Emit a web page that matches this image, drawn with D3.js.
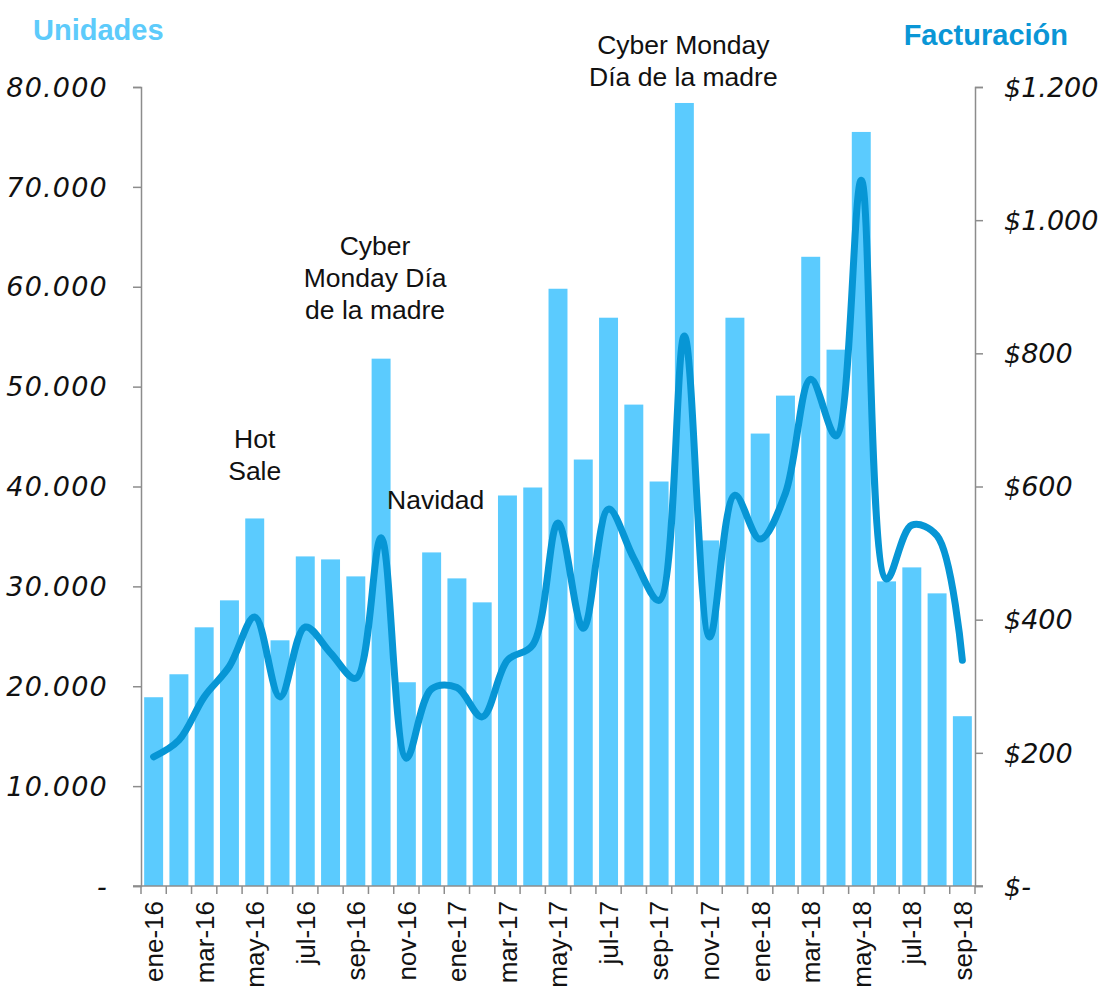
<!DOCTYPE html>
<html>
<head>
<meta charset="utf-8">
<script src="https://cdn.jsdelivr.net/npm/d3@7"></script>
<style>
  body { margin: 0; background: #fff; }
  svg { display: block; }
  .tick-label { font-family: "DejaVu Sans", sans-serif; font-style: italic; font-size: 27px; fill: #111; }
  .tick-label.left { letter-spacing: 1.2px; }
  .x-label { font-family: "Liberation Sans", Arial, sans-serif; font-size: 26px; fill: #111; }
  .note { font-family: "Liberation Sans", Arial, sans-serif; font-size: 26.5px; fill: #111; }
  .title { font-family: "Liberation Sans", Arial, sans-serif; font-weight: bold; font-size: 29px; }
</style>
</head>
<body>
<div id="chart"></div>
<script>
const months = [
  'ene-16','feb-16','mar-16','abr-16','may-16','jun-16','jul-16','ago-16','sep-16','oct-16','nov-16','dic-16',
  'ene-17','feb-17','mar-17','abr-17','may-17','jun-17','jul-17','ago-17','sep-17','oct-17','nov-17','dic-17',
  'ene-18','feb-18','mar-18','abr-18','may-18','jun-18','jul-18','ago-18','sep-18'
];

const unidades = [
  18900, 21200, 25900, 28600, 36800, 24600, 33000, 32700, 31000, 52800, 20400, 33400,
  30800, 28400, 39100, 39900, 59800, 42700, 56900, 48200, 40500, 78400, 34600, 56900,
  45300, 49100, 63000, 53700, 75500, 30500, 31900, 29300, 17000
];

const facturacion = [
  194, 219, 284, 330, 404, 284, 389, 350, 312, 523, 192, 296,
  298, 254, 339, 362, 545, 387, 566, 492, 429, 826, 374, 587,
  521, 590, 761, 676, 1060, 461, 542, 526, 339
];

const leftTicks = [0, 10000, 20000, 30000, 40000, 50000, 60000, 70000, 80000];
const rightTicks = [0, 200, 400, 600, 800, 1000, 1200];

const noteMonths = ['may-16', 'oct-16', 'dic-16', 'oct-17'];
const noteTexts = [
  ['Hot', 'Sale'],
  ['Cyber', 'Monday Día', 'de la madre'],
  ['Navidad'],
  ['Cyber Monday', 'Día de la madre']
];

const W = 1104, H = 986;
const plot = { left: 141, right: 975, top: 87, bottom: 886 };
// where each note sits: offset from its bar centre, and first baseline
const notePos = [
  { dx: 0, y: 448 },
  { dx: -6, y: 255 },
  { dx: 4, y: 509 },
  { dx: -1, y: 54 }
];

const svg = d3.select('#chart').append('svg')
  .attr('width', W)
  .attr('height', H);

const x = d3.scaleBand()
  .domain(months)
  .range([plot.left, plot.right])
  .paddingInner(0.25)
  .paddingOuter(0.125);

const yLeft = d3.scaleLinear().domain([0, 80000]).range([plot.bottom, plot.top]);
const yRight = d3.scaleLinear().domain([0, 1200]).range([plot.bottom, plot.top]);

const fmtThousands = v => v === 0 ? '-' : d3.format(',')(v).replace(/,/g, '.');
const fmtMoney = v => v === 0 ? '$-' : '$' + d3.format(',')(v).replace(/,/g, '.');

// Bars
svg.append('g').selectAll('rect')
  .data(months)
  .join('rect')
  .attr('x', d => x(d))
  .attr('y', (d, i) => yLeft(unidades[i]))
  .attr('width', x.bandwidth())
  .attr('height', (d, i) => plot.bottom - yLeft(unidades[i]))
  .attr('fill', '#5bcbfe');

// Line
const line = d3.line()
  .x((d, i) => x(months[i]) + x.bandwidth() / 2)
  .y(d => yRight(d))
  .curve(d3.curveCatmullRom.alpha(0.5));

svg.append('path')
  .datum(facturacion)
  .attr('d', line)
  .attr('fill', 'none')
  .attr('stroke', '#0796d5')
  .attr('stroke-width', 7)
  .attr('stroke-linecap', 'round')
  .attr('stroke-linejoin', 'round');

// Axes
const axisColor = '#8c8c8c';

const leftAxis = svg.append('g')
  .attr('transform', `translate(${plot.left},0)`)
  .call(d3.axisLeft(yLeft).tickValues(leftTicks).tickSize(8).tickSizeOuter(8).tickFormat(''));

const rightAxis = svg.append('g')
  .attr('transform', `translate(${plot.right},0)`)
  .call(d3.axisRight(yRight).tickValues(rightTicks).tickSize(8).tickSizeOuter(8).tickFormat(''));

[leftAxis, rightAxis].forEach(a => {
  a.select('.domain').attr('stroke', axisColor).attr('stroke-width', 1.5);
  a.selectAll('.tick line').attr('stroke', axisColor).attr('stroke-width', 1.5);
});

svg.append('g').selectAll('text')
  .data(leftTicks)
  .join('text')
  .attr('class', 'tick-label left')
  .attr('x', 108)
  .attr('y', d => yLeft(d))
  .attr('dy', '0.36em')
  .attr('text-anchor', 'end')
  .text(fmtThousands);

svg.append('g').selectAll('text')
  .data(rightTicks)
  .join('text')
  .attr('class', 'tick-label')
  .attr('x', 1004)
  .attr('y', d => yRight(d))
  .attr('dy', '0.36em')
  .attr('text-anchor', 'start')
  .text(fmtMoney);

// X axis with ticks at band boundaries
const step = x.step();
const x0 = x.range()[0];
const xAxis = svg.append('g');
xAxis.append('line')
  .attr('x1', plot.left - 8).attr('x2', plot.right + 8)
  .attr('y1', plot.bottom).attr('y2', plot.bottom)
  .attr('stroke', axisColor).attr('stroke-width', 1.5);
xAxis.selectAll('line.tk')
  .data(d3.range(months.length + 1))
  .join('line')
  .attr('class', 'tk')
  .attr('x1', i => x0 + i * step).attr('x2', i => x0 + i * step)
  .attr('y1', plot.bottom).attr('y2', plot.bottom + 8)
  .attr('stroke', axisColor).attr('stroke-width', 1.5);

xAxis.selectAll('text')
  .data(months.filter((d, i) => i % 2 === 0))
  .join('text')
  .attr('class', 'x-label')
  .attr('transform', d => `translate(${x(d) + x.bandwidth() / 2},${plot.bottom + 15}) rotate(-90)`)
  .attr('dy', '0.36em')
  .attr('text-anchor', 'end')
  .text(d => d);

// Axis titles
svg.append('text')
  .attr('class', 'title')
  .attr('x', 33).attr('y', 40)
  .attr('fill', '#5dcbfb')
  .text('Unidades');

svg.append('text')
  .attr('class', 'title')
  .attr('x', 1068).attr('y', 45)
  .attr('text-anchor', 'end')
  .attr('fill', '#0a96d6')
  .text('Facturación');

// Annotations
const noteG = svg.append('g');
noteMonths.forEach((m, k) => {
  const cx = x(m) + x.bandwidth() / 2 + notePos[k].dx;
  const t = noteG.append('text')
    .attr('class', 'note')
    .attr('text-anchor', 'middle')
    .attr('x', cx)
    .attr('y', notePos[k].y);
  noteTexts[k].forEach((l, i) => {
    t.append('tspan')
      .attr('x', cx)
      .attr('dy', i === 0 ? 0 : 32)
      .text(l);
  });
});
</script>
</body>
</html>
